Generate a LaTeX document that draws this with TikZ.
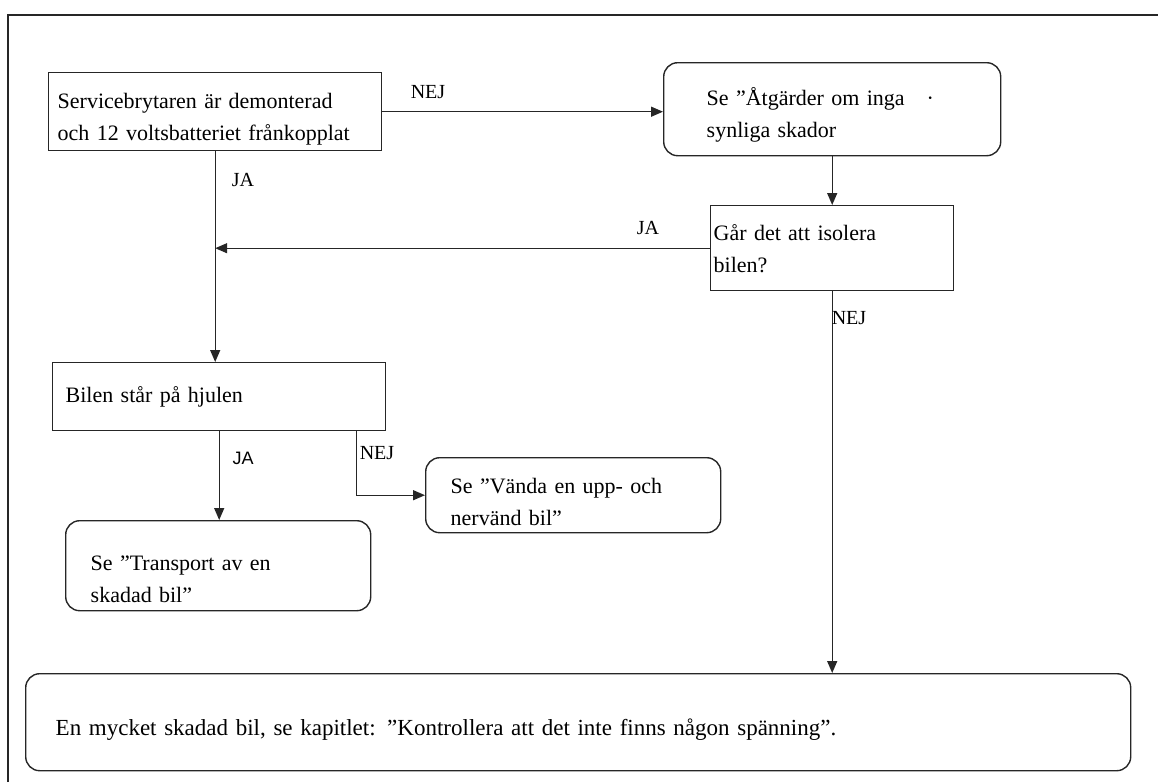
\documentclass[tikz,border=0pt]{standalone}
\usepackage{fontspec}
\setmainfont{Liberation Serif}
\setsansfont{Liberation Sans}
\usetikzlibrary{arrows.meta,calc}
\newcommand{\topstrut}[1]{\rule{0pt}{#1pt}}
\tikzset{
  every picture/.style={x=1pt,y=-1pt},
  ln/.style={line width=1.4pt,draw=black!85},
  arr/.style={ln,-{Triangle[length=12pt,width=10pt]}},
  box/.style={ln,anchor=north west,align=left,inner ysep=0pt,
    font=\fontsize{22}{32}\selectfont},
  rbox/.style={box,rounded corners=14pt},
  lbl/.style={font=\fontsize{20}{24}\selectfont,inner sep=0pt},
}
\begin{document}
\begin{tikzpicture}
\useasboundingbox (0,0) rectangle (1158,782);
% frame
\draw[ln] (8,782) -- (8,15) -- (1158,15);
% boxes
\node[box,minimum width=333pt,minimum height=78pt,inner xsep=9pt,text width=315pt] (b1) at (48,72)
  {\topstrut{30}Servicebrytaren är demonterad\\och 12 voltsbatteriet frånkopplat};
\node[rbox,minimum width=337pt,minimum height=93pt,inner xsep=43pt,text width=251pt] (b2) at (663,62)
  {\topstrut{30}Se ”Åtgärder om inga\hspace{22pt}·\\synliga skador};
\node[box,minimum width=243pt,minimum height=85pt,inner xsep=3pt,text width=237pt] (b3) at (710,205)
  {Går det att isolera\\bilen?};
\node[box,minimum width=333pt,minimum height=68pt,inner xsep=13pt,text width=307pt] (b4) at (52,362)
  {Bilen står på hjulen};
\node[rbox,minimum width=305pt,minimum height=90pt,inner xsep=25pt,text width=255pt] (b5) at (65,520)
  {\topstrut{42}Se ”Transport av en\\skadad bil”};
\node[rbox,minimum width=295pt,minimum height=75pt,inner xsep=25pt,text width=245pt] (b6) at (425,457)
  {\topstrut{28}Se ”Vända en upp- och\\nervänd bil”};
\node[rbox,minimum width=1105pt,minimum height=97pt,inner xsep=30pt,text width=1045pt,
  font=\fontsize{23}{32}\selectfont] (b7) at (25,673)
  {\topstrut{32}En mycket skadad bil, se kapitlet: ”Kontrollera att det inte finns någon spänning”.};
% connectors
\draw[arr] (b1.east) -- (b1.east -| b2.west);
\draw[arr] (b2.south) -- (b3.north);
\draw[arr] (b3.west) -- (b3.west -| b1.south);
\draw[arr] (b1.south) -- (b1.south |- b4.north);
\draw[arr] (b4.south) -- (b4.south |- b5.north);
\coordinate (n4) at ([xshift=-30pt]b4.south east);
\draw[arr] (n4) |- (b6.west);
\draw[arr] (b3.south) -- (b3.south |- b7.north);
% labels
\node[lbl] (l1) at (428,92) {NEJ};
\node[lbl] (l2) at (243,180) {JA};
\node[lbl] (l3) at (648,228) {JA};
\node[lbl] (l4) at (849,318) {NEJ};
\node[lbl,font=\sffamily\fontsize{18}{22}\selectfont] (l5) at (243,458) {JA};
\node[lbl] (l6) at (377,453) {NEJ};
\end{tikzpicture}
\end{document}
